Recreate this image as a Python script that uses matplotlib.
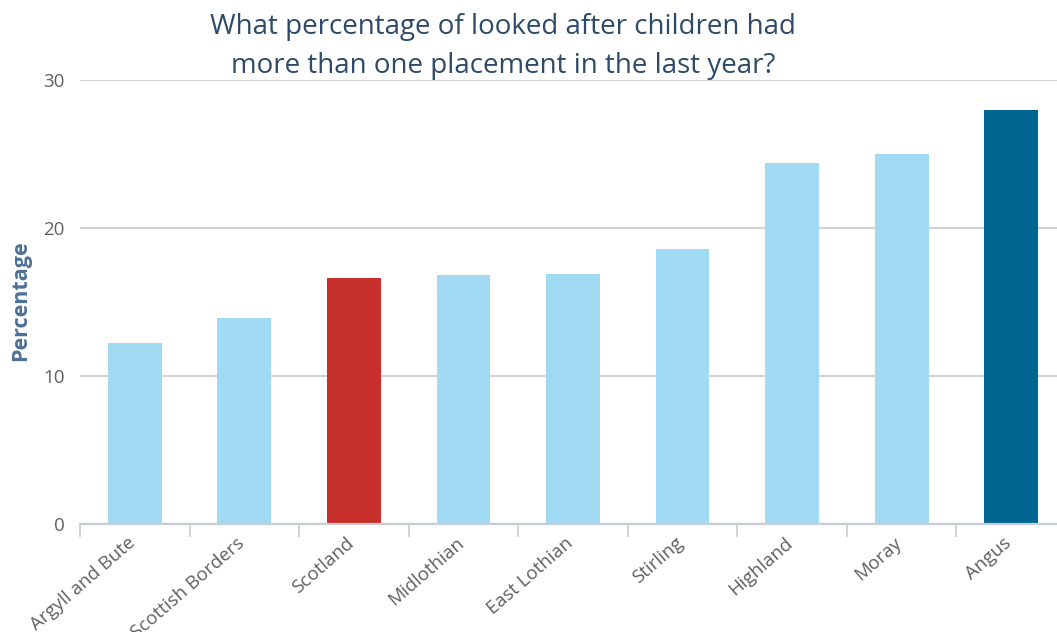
import matplotlib.pyplot as plt
import matplotlib.transforms as mtransforms

plt.rcParams["font.family"] = ["Open Sans", "DejaVu Sans"]

areas = [
    "Argyll and Bute",
    "Scottish Borders",
    "Scotland",
    "Midlothian",
    "East Lothian",
    "Stirling",
    "Highland",
    "Moray",
    "Angus",
]
percent = [12.2, 13.9, 16.6, 16.8, 16.9, 18.6, 24.4, 25.0, 28.0]
yticks = [0, 10, 20, 30]

light = "#a0dbf3"
colours = [light] * len(areas)
colours[areas.index("Scotland")] = "#c62f2b"
colours[areas.index("Angus")] = "#01668f"

fig = plt.figure(figsize=(10.57, 6.32), dpi=100)
axis = fig.add_axes([80 / 1057, 108 / 632, 986 / 1057, 444 / 632])

pos = list(range(len(areas)))
axis.bar(pos, percent, width=0.49, color=colours, zorder=3)

axis.set_xlim(-0.5, len(areas) - 0.5)
axis.set_ylim(0, 30)
axis.set_yticks(yticks)
axis.yaxis.grid(True, color="#d3d3d3", linewidth=1.6, zorder=0)
axis.tick_params(axis="y", length=0, pad=11, labelsize=13.5, labelcolor="#606060")

# category labels at the centres, boundary ticks below the baseline
axis.set_xticks(pos)
axis.set_xticklabels(areas, rotation=41, ha="right", rotation_mode="anchor",
                     fontsize=13.5, color="#606060")
axis.tick_params(axis="x", which="major", length=0, pad=7)
shift = mtransforms.ScaledTranslation(-8 / 100, 0, fig.dpi_scale_trans)
for lab in axis.get_xticklabels():
    lab.set_transform(lab.get_transform() + shift)
axis.set_xticks([p - 0.5 for p in pos] + [len(areas) - 0.5], minor=True)
axis.tick_params(axis="x", which="minor", length=9, width=1.2, color="#c8ccd6")

for side in ["top", "right", "left"]:
    axis.spines[side].set_visible(False)
axis.spines["bottom"].set_color("#c8ccd6")
axis.spines["bottom"].set_linewidth(1.6)
axis.spines["bottom"].set_zorder(4)

axis.text(21 / 1057, 1 - 301 / 632, "Percentage", transform=fig.transFigure,
          rotation=90, ha="center", va="center", fontsize=15.5,
          fontweight="bold", color="#4d7098")

fig.text(503 / 1057, 1 - 13 / 632,
         "What percentage of looked after children had\n"
         "more than one placement in the last year?",
         ha="center", va="top", fontsize=20, color="#2e4a66", linespacing=1.5)

fig.savefig("out.png", dpi=100)
plt.close()
